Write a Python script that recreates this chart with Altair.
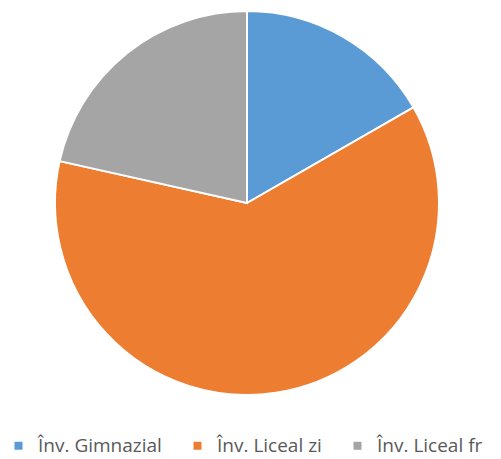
import altair as alt
import pandas as pd

categories = ["Înv. Gimnazial", "Înv. Liceal zi", "Înv. Liceal fr"]
values = [16.7, 61.8, 21.5]
colors = ["#5B9BD5", "#ED7D31", "#A5A5A5"]

df = pd.DataFrame({"cat": categories, "val": values, "ord": [0, 1, 2]})

chart = alt.Chart(df).mark_arc(radius=192, stroke="white", strokeWidth=2).encode(
    x=alt.value(239),
    y=alt.value(195),
    theta=alt.Theta("val:Q", stack=True),
    order=alt.Order("ord:Q"),
    color=alt.Color(
        "cat:N",
        sort=categories,
        scale=alt.Scale(domain=categories, range=colors),
        legend=alt.Legend(
            title=None,
            orient="none",
            direction="horizontal",
            legendX=1,
            legendY=428,
            symbolType="square",
            symbolSize=64,
            symbolStrokeWidth=0,
            labelFont="Open Sans",
            labelFontSize=19,
            labelColor="#595959",
            columnPadding=26,
            symbolOffset=0,
            labelOffset=10,
        ),
    ),
).properties(
    width=485, height=451, padding=0,
    autosize=alt.AutoSizeParams(type="none"),
).configure_view(stroke=None)

chart.save("out.html", embed_options={"renderer": "svg", "actions": False})
